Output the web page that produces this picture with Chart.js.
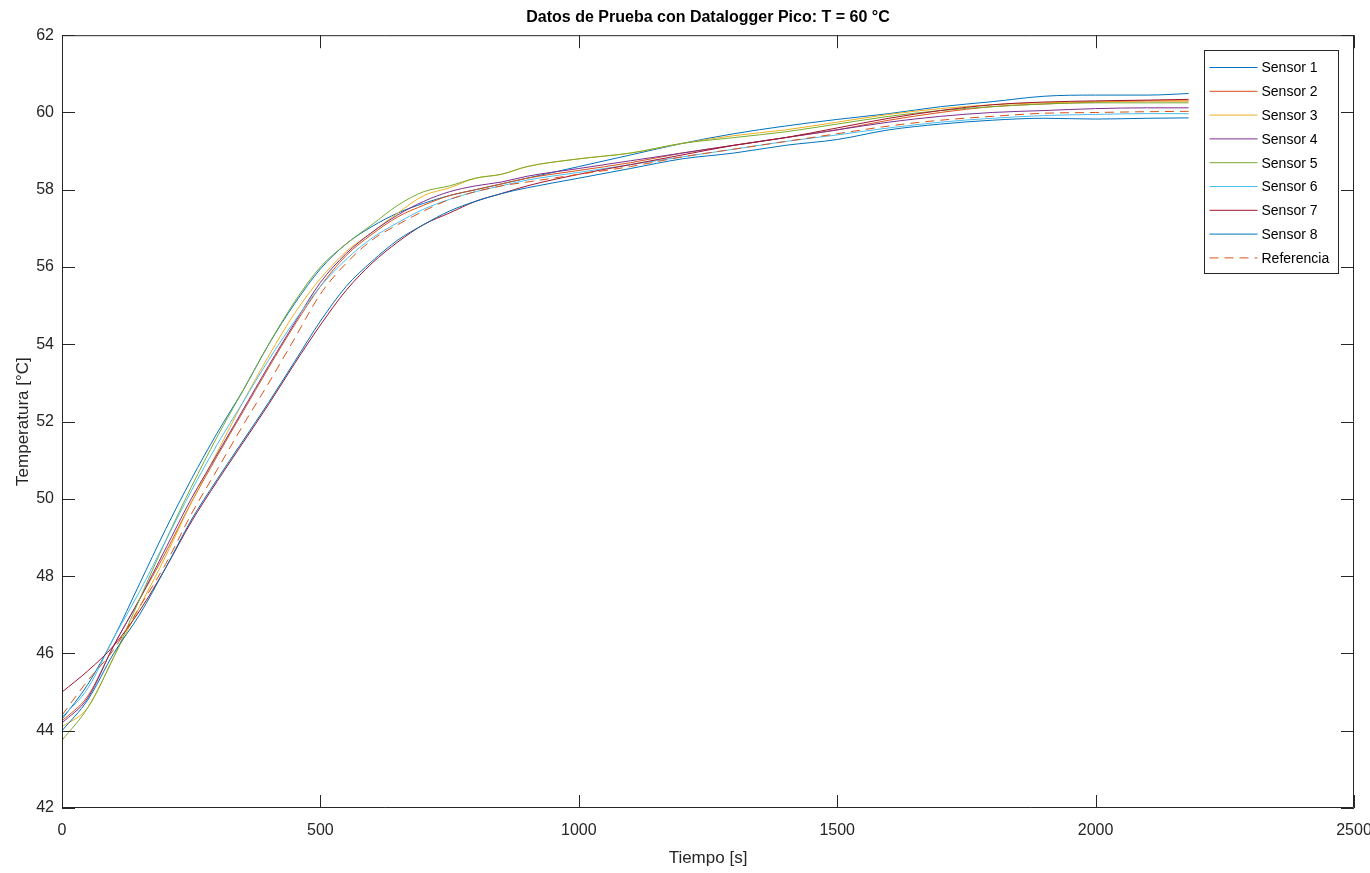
<!DOCTYPE html>
<html>
<head>
<meta charset="utf-8">
<script src="https://cdn.jsdelivr.net/npm/chart.js@4.4.1/dist/chart.umd.min.js"></script>
<style>
  html, body { margin: 0; padding: 0; background: #fff; }
  #wrap { width: 1370px; height: 873px; }
</style>
</head>
<body>
<div id="wrap"><canvas id="temp_pico"></canvas></div>
<script>
// tiempo [s]
var tiempo = [0, 50, 100, 150, 200, 250, 300, 350, 400, 450, 500, 550, 600, 650, 700, 750, 800, 850, 900,
              1000, 1100, 1200, 1300, 1400, 1500, 1600, 1700, 1800, 1900, 2000, 2100, 2180];

var sensor1 = [44.3, 45.2, 46.4, 47.8, 49.2, 50.5, 51.7, 52.8, 54.0, 55.05, 55.95, 56.6, 57.05, 57.4, 57.65, 57.85, 58.0, 58.15, 58.3,
               58.6, 58.9, 59.2, 59.45, 59.65, 59.82, 59.97, 60.15, 60.28, 60.42, 60.45, 60.45, 60.49];
var sensor2 = [44.25, 44.9, 46.2, 47.4, 48.6, 49.9, 51.1, 52.25, 53.4, 54.5, 55.5, 56.3, 56.85, 57.3, 57.6, 57.85, 58.0, 58.15, 58.3,
               58.5, 58.7, 58.95, 59.15, 59.35, 59.55, 59.8, 60.0, 60.15, 60.22, 60.27, 60.3, 60.3];
var sensor3 = [44.1, 44.6, 45.9, 47.2, 48.5, 49.9, 51.2, 52.5, 53.7, 54.8, 55.7, 56.4, 56.9, 57.4, 57.85, 58.05, 58.3, 58.4, 58.6,
               58.8, 58.95, 59.2, 59.4, 59.55, 59.75, 59.95, 60.1, 60.2, 60.25, 60.28, 60.3, 60.3];
var sensor4 = [44.2, 44.85, 46.2, 47.4, 48.7, 50.0, 51.15, 52.3, 53.45, 54.55, 55.6, 56.35, 56.9, 57.35, 57.7, 57.95, 58.1, 58.2, 58.35,
               58.55, 58.75, 58.95, 59.15, 59.35, 59.55, 59.75, 59.9, 60.0, 60.05, 60.1, 60.12, 60.12];
var sensor5 = [43.75, 44.6, 45.9, 47.4, 48.9, 50.3, 51.6, 52.8, 54.0, 55.1, 56.0, 56.6, 57.1, 57.6, 57.95, 58.1, 58.3, 58.4, 58.6,
               58.8, 58.95, 59.2, 59.35, 59.5, 59.7, 59.9, 60.05, 60.15, 60.22, 60.25, 60.25, 60.25];
var sensor6 = [44.35, 45.1, 46.4, 47.6, 48.9, 50.2, 51.4, 52.5, 53.6, 54.6, 55.5, 56.2, 56.75, 57.15, 57.5, 57.75, 57.95, 58.1, 58.25,
               58.45, 58.65, 58.85, 59.05, 59.25, 59.42, 59.6, 59.75, 59.85, 59.92, 59.95, 59.97, 59.97];
var sensor7 = [45.0, 45.55, 46.2, 47.1, 48.2, 49.4, 50.45, 51.45, 52.45, 53.5, 54.5, 55.4, 56.1, 56.65, 57.1, 57.4, 57.7, 57.9, 58.1,
               58.4, 58.65, 58.9, 59.15, 59.35, 59.6, 59.85, 60.05, 60.2, 60.27, 60.3, 60.32, 60.34];
var sensor8 = [44.0, 44.8, 46.0, 47.0, 48.2, 49.45, 50.5, 51.5, 52.5, 53.55, 54.6, 55.5, 56.15, 56.7, 57.1, 57.45, 57.7, 57.9, 58.05,
               58.3, 58.55, 58.8, 58.95, 59.15, 59.3, 59.55, 59.7, 59.8, 59.85, 59.83, 59.85, 59.86];
var referencia = [44.4, 45.3, 46.1, 47.2, 48.3, 49.6, 50.75, 51.9, 53.0, 54.15, 55.3, 56.1, 56.7, 57.1, 57.45, 57.75, 57.95, 58.1, 58.2,
                  58.4, 58.6, 58.85, 59.05, 59.25, 59.45, 59.65, 59.8, 59.9, 59.98, 60.0, 60.02, 60.03];

var etiquetas = ["Sensor 1", "Sensor 2", "Sensor 3", "Sensor 4", "Sensor 5", "Sensor 6", "Sensor 7", "Sensor 8", "Referencia"];
var series = [sensor1, sensor2, sensor3, sensor4, sensor5, sensor6, sensor7, sensor8, referencia];
var colores = ["#0072BD", "#D95319", "#EDB120", "#7E2F8E", "#77AC30", "#4DBEEE", "#A2142F", "#0072BD", "#D95319"];

var ejeColor = "#262626";
var fuente = "'Liberation Sans', Arial, sans-serif";

var datasets = [];
for (var i = 0; i < series.length; i++) {
  var pts = [];
  for (var j = 0; j < tiempo.length; j++) {
    pts.push({ x: tiempo[j], y: series[i][j] });
  }
  datasets.push({
    label: etiquetas[i],
    data: pts,
    borderColor: colores[i],
    backgroundColor: colores[i],
    borderWidth: 1,
    borderDash: etiquetas[i] == "Referencia" ? [9, 6] : [],
    pointRadius: 0,
    cubicInterpolationMode: 'monotone',
    fill: false,
    order: series.length - i
  });
}

// matlab style box, inward ticks and legend inside the axes
var matlabBox = {
  id: 'matlabBox',
  afterDraw: function (chart) {
    var ctx = chart.ctx;
    var a = chart.chartArea;
    var xs = chart.scales.x, ys = chart.scales.y;
    var L = 13;
    ctx.save();
    ctx.strokeStyle = ejeColor;
    ctx.lineWidth = 1;
    ctx.beginPath();
    ctx.rect(a.left + 0.5, a.top + 0.5, a.right - a.left - 1, a.bottom - a.top - 1);
    xs.ticks.forEach(function (t) {
      var px = Math.round(xs.getPixelForValue(t.value)) + 0.5;
      ctx.moveTo(px, a.bottom); ctx.lineTo(px, a.bottom - L);
      ctx.moveTo(px, a.top); ctx.lineTo(px, a.top + L);
    });
    ys.ticks.forEach(function (t) {
      var py = Math.round(ys.getPixelForValue(t.value)) + 0.5;
      ctx.moveTo(a.left, py); ctx.lineTo(a.left + L, py);
      ctx.moveTo(a.right, py); ctx.lineTo(a.right - L, py);
    });
    ctx.stroke();

    // legend
    var bx = 1204.5, by = 50.5, bw = 134, bh = 223, row = 23.8;
    ctx.fillStyle = "#fff";
    ctx.fillRect(bx, by, bw, bh);
    ctx.strokeRect(bx, by, bw, bh);
    ctx.font = "14px " + fuente;
    ctx.textBaseline = "middle";
    chart.data.datasets.forEach(function (ds, k) {
      var y = by + 17 + k * row;
      ctx.strokeStyle = ds.borderColor;
      ctx.setLineDash(ds.borderDash);
      ctx.beginPath();
      ctx.moveTo(bx + 5, y); ctx.lineTo(bx + 53, y);
      ctx.stroke();
      ctx.setLineDash([]);
      ctx.fillStyle = "#000";
      ctx.fillText(ds.label, bx + 57, y + 1);
    });
    ctx.restore();
  }
};

new Chart(document.getElementById("temp_pico"), {
  type: 'line',
  data: { datasets: datasets },
  options: {
    responsive: true,
    maintainAspectRatio: false,
    animation: false,
    layout: { padding: { left: 0, right: 0, top: 0, bottom: 0 } },
    scales: {
      x: {
        type: 'linear',
        min: 0,
        max: 2500,
        grid: { display: false },
        border: { display: false },
        ticks: {
          stepSize: 500, color: ejeColor, padding: 5, maxRotation: 0,
          font: { family: fuente, size: 16 },
          callback: function (v) { return String(v); }
        },
        title: { display: true, text: 'Tiempo [s]', color: ejeColor, padding: { top: 0, bottom: 4 }, font: { family: fuente, size: 17 } },
        afterFit: function (s) { s.height = 65; s.paddingRight = 16; }
      },
      y: {
        min: 42,
        max: 62,
        grid: { display: false },
        border: { display: false },
        ticks: { stepSize: 2, color: ejeColor, padding: 0, font: { family: fuente, size: 16 } },
        title: { display: true, text: 'Temperatura [°C]', color: ejeColor, padding: { top: 13, bottom: 0 }, font: { family: fuente, size: 17 } },
        afterFit: function (s) { s.width = 62; }
      }
    },
    plugins: {
      legend: { display: false },
      tooltip: { enabled: false },
      title: {
        display: true,
        fullSize: false,
        text: 'Datos de Prueba con Datalogger Pico: T = 60 °C',
        color: "#000",
        font: { family: fuente, size: 16, weight: 'bold' },
        padding: { top: 8, bottom: 8 }
      }
    }
  },
  plugins: [matlabBox]
});
</script>
</body>
</html>
